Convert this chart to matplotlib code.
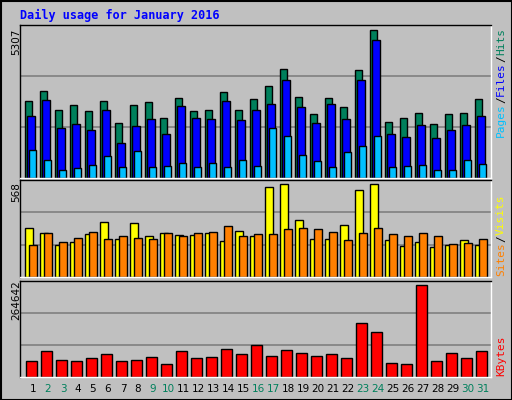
import matplotlib
matplotlib.use("Agg")
import matplotlib.pyplot as plt
import numpy as np

days = list(range(1, 32))
weekend = [2, 3, 9, 10, 16, 17, 23, 24, 30, 31]
hits = [2749, 3110, 2424, 2605, 2388, 2749, 1955, 2605, 2713, 2136, 2857, 2388, 2424, 3074, 2424, 2821, 3291, 3904, 2893, 2280, 2857, 2533, 3868, 5307, 1991, 2136, 2316, 1919, 2280, 2316, 2821]
files = [2208, 2785, 1811, 1919, 1739, 2424, 1245, 1859, 2112, 1570, 2579, 2136, 2100, 2749, 2064, 2424, 2641, 3507, 2529, 1967, 2641, 2100, 3507, 4946, 1570, 1462, 1895, 1426, 1715, 1895, 2208]
pages = [987, 662, 301, 373, 481, 806, 409, 951, 409, 445, 553, 409, 553, 409, 662, 445, 1781, 1492, 842, 626, 409, 915, 1131, 1492, 409, 445, 481, 301, 301, 662, 518]
visits = [302, 271, 198, 216, 265, 339, 234, 333, 251, 271, 259, 259, 271, 222, 284, 251, 549, 568, 346, 234, 234, 315, 531, 568, 228, 191, 216, 185, 198, 228, 198]
sites = [198, 271, 216, 240, 278, 234, 251, 240, 234, 271, 251, 271, 278, 309, 251, 265, 265, 296, 302, 296, 278, 228, 271, 302, 265, 251, 271, 251, 204, 210, 234]
kbytes = [45230, 74060, 48110, 45230, 53880, 65410, 45230, 48110, 56760, 36610, 74060, 53880, 56760, 79820, 65410, 91370, 59640, 76940, 68290, 59640, 65410, 53880, 154800, 128840, 39490, 36610, 264642, 45230, 68290, 53880, 74060]

BG = "#C0C0C0"
W, H = 512, 400
fig = plt.figure(figsize=(5.12, 4.0), dpi=100, facecolor=BG)
mono = "DejaVu Sans Mono"

def ax_px(x0, y0, x1, y1):
    return fig.add_axes([x0 / W, 1 - y1 / H, (x1 - x0) / W, (y1 - y0) / H])

fig.add_artist(plt.Rectangle((0.5 / W, 0.5 / H), 1 - 1 / W, 1 - 1 / H, transform=fig.transFigure,
                             fill=False, ec="black", lw=1.5))
fig.text(20 / W, 1 - 15 / H, "Daily usage for January 2016", color="#0000FF", family=mono,
         weight="bold", fontsize=8.5, va="center", ha="left")

xl = (1 - 5 / 15, 1 - 5 / 15 + 471 / 15)
d = np.array(days, dtype=float)

def style(ax, top):
    ax.set_facecolor(BG)
    ax.set_xlim(*xl)
    ax.set_ylim(0, top)
    for y in (top / 3, 2 * top / 3):
        ax.axhline(y, color="#808080", lw=1.2, zorder=0)
    ax.set_xticks([]); ax.set_yticks([])
    ax.spines["left"].set_color("black"); ax.spines["top"].set_color("black")
    ax.spines["right"].set_color("white"); ax.spines["bottom"].set_color("white")
    for s in ax.spines.values():
        s.set_linewidth(1)

kw = dict(align="edge", edgecolor="black", linewidth=1)
a1 = ax_px(20, 25, 491, 178)
style(a1, 5307 * 152 / 147)
a1.bar(d, hits, width=0.49, color="#00805C", **kw)
a1.bar(d + 2 / 15, files, width=0.53, color="#0000FF", **kw)
a1.bar(d + 4 / 15, pages, width=0.47, color="#00C0FF", **kw)

a2 = ax_px(20, 180, 491, 277)
style(a2, 568 * 96 / 92)
a2.bar(d, visits, width=0.55, color="#FFFF00", **kw)
a2.bar(d + 4 / 15, sites, width=0.55, color="#FF8000", **kw)

a3 = ax_px(20, 281, 491, 377)
style(a3, 264642 * 96 / 92)
a3.bar(d + 1 / 15, kbytes, width=0.72, color="#FF0000", **kw)

for dd in days:
    fig.text((25 + 15 * (dd - 1) + 8) / W, 1 - 389 / H, str(dd), ha="center", va="center",
             fontsize=7.5, color="#00805C" if dd in weekend else "black")

fig.text(16 / W, 1 - 42 / H, "5307", rotation=90, ha="center", va="center", fontsize=7.5)
fig.text(16 / W, 1 - 192 / H, "568", rotation=90, ha="center", va="center", fontsize=7.5)
fig.text(16 / W, 1 - 300 / H, "264642", rotation=90, ha="center", va="center", fontsize=7.5)

def rlabel(parts, ybottom):
    y = ybottom
    for txt, col in parts:
        h = len(txt) * 6.8
        fig.text(501 / W, 1 - (y - h / 2) / H, txt, rotation=90, ha="center", va="center",
                 fontsize=8, family=mono, color=col)
        y -= h
rlabel([("Pages", "#00C0FF"), ("/", "#000000"), ("Files", "#0000FF"), ("/", "#000000"), ("Hits", "#00805C")], 137)
rlabel([("Sites", "#FF8000"), ("/", "#000000"), ("Visits", "#FFFF00")], 276)
rlabel([("KBytes", "#FF0000")], 376)

fig.savefig("out.png", dpi=100, facecolor=BG)
